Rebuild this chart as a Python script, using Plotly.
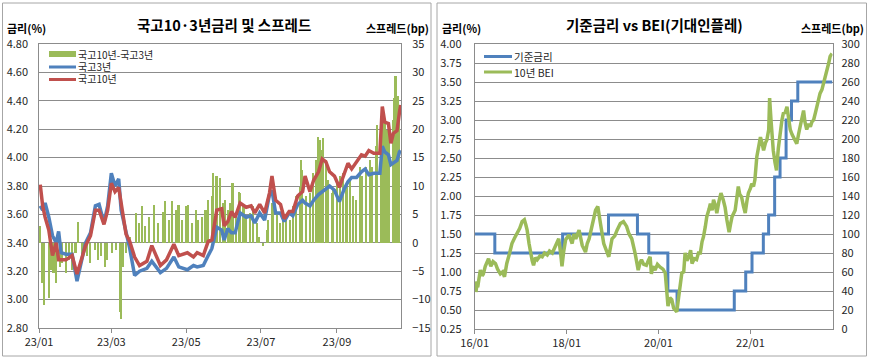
import plotly.graph_objects as go
import pandas as pd

W, H = 869, 358

# ---------------- Left panel data (2023) ----------------
base_2023 = pd.Timestamp("2023-01-01")
rate_day = [1, 3, 5, 8, 11, 14, 16, 18, 22, 27,
            31, 38, 42, 46, 49, 53, 56, 59, 62, 65,
            67, 71, 74, 78, 82, 88, 92, 99, 104, 110,
            114, 121, 126, 129, 134, 138, 141, 145, 149, 151,
            154, 157, 160, 164, 169, 173, 176, 180, 184, 188,
            190, 193, 197, 200, 204, 207, 211, 215, 217, 221,
            224, 228, 231, 234, 237, 241, 245, 249, 252, 255,
            259, 263, 266, 269, 273, 278, 280, 282, 285, 287,
            289, 292, 294, 295]
ktb10 = [3.81, 3.66, 3.58, 3.49, 3.31, 3.40, 3.28, 3.28, 3.28, 3.31,
         3.18, 3.38, 3.45, 3.63, 3.63, 3.53, 3.63, 3.82, 3.76, 3.79,
         3.68, 3.46, 3.41, 3.30, 3.24, 3.27, 3.38, 3.24, 3.28, 3.39,
         3.31, 3.33, 3.30, 3.33, 3.31, 3.41, 3.42, 3.63, 3.64, 3.52,
         3.55, 3.62, 3.58, 3.68, 3.65, 3.66, 3.61, 3.67, 3.61, 3.75,
         3.87, 3.70, 3.67, 3.57, 3.62, 3.62, 3.73, 3.76, 3.87, 3.76,
         3.84, 3.90, 3.99, 3.97, 3.90, 3.87, 3.79, 3.88, 3.96, 3.92,
         3.97, 4.02, 4.01, 4.05, 4.03, 4.03, 4.36, 4.25, 4.24, 4.10,
         4.17, 4.19, 4.32, 4.37]
ktb3 = [3.66, 3.63, 3.68, 3.58, 3.45, 3.40, 3.48, 3.33, 3.32, 3.32,
        3.13, 3.40, 3.47, 3.66, 3.67, 3.54, 3.66, 3.89, 3.80, 3.85,
        3.63, 3.47, 3.36, 3.17, 3.20, 3.22, 3.27, 3.19, 3.22, 3.30,
        3.23, 3.21, 3.24, 3.23, 3.24, 3.31, 3.36, 3.51, 3.49, 3.42,
        3.50, 3.47, 3.47, 3.61, 3.58, 3.59, 3.54, 3.61, 3.56, 3.74,
        3.77, 3.61, 3.61, 3.55, 3.61, 3.59, 3.67, 3.70, 3.68, 3.66,
        3.70, 3.74, 3.76, 3.78, 3.80, 3.77, 3.69, 3.78, 3.83, 3.86,
        3.86, 3.90, 3.92, 3.88, 3.89, 3.89, 4.08, 4.04, 4.02, 3.95,
        3.96, 3.98, 4.04, 4.05]

spread_day = [1, 3, 4, 8, 10, 12, 14, 17, 19, 22,
              25, 27, 30, 32, 35, 36, 39, 42, 46, 48,
              51, 54, 56, 60, 63, 66, 67, 69, 71, 74,
              79, 82, 84, 87, 90, 94, 97, 101, 103, 106,
              109, 112, 114, 117, 120, 122, 125, 128, 130, 133,
              136, 138, 141, 142, 145, 148, 150, 152, 154, 156,
              158, 161, 163, 164, 167, 169, 172, 175, 178, 180,
              183, 186, 187, 190, 191, 194, 197, 199, 202, 205,
              207, 210, 213, 214, 215, 218, 221, 224, 226, 228,
              229, 230, 232, 234, 236, 239, 240, 243, 246, 248,
              251, 254, 256, 259, 262, 264, 267, 270, 272, 275,
              276, 279, 280, 282, 284, 286, 289, 290, 291, 293,
              294]
spread_bp = [2.9, -7.1, -10.9, -9.7, -4.8, -5.3, -7.1, -4.2, -3.6, -5.3,
             -3.0, -4.8, -1.8, 3.7, -3.0, -1.8, -2.4, -3.6, -1.2, -3.0,
             -2.4, -4.2, -3.0, -1.8, -1.2, -12.1, -13.5, -4.2, -1.8, 1.0,
             5.2, 3.5, 6.5, 2.9, 4.6, 6.7, 3.5, 5.5, 7.3, 4.0,
             7.3, 5.8, 6.7, 4.0, 6.5, 6.7, 3.5, 5.8, 4.0, 4.6,
             5.8, 7.6, 8.2, 12.3, 11.7, 11.4, 7.0, 7.6, 5.8, 7.0,
             10.5, 5.2, 9.0, 8.7, 6.4, 4.6, 5.2, 6.4, 3.5, 1.1,
             -0.6, 2.3, 4.0, 7.0, 6.4, 5.2, 3.5, 5.8, 4.6, 4.0,
             6.4, 8.2, 9.9, 14.6, 12.9, 8.2, 8.7, 12.3, 14.6, 18.7,
             18.1, 16.4, 18.4, 14.6, 11.1, 8.7, 9.3, 10.5, 11.7, 12.3,
             9.9, 11.1, 8.2, 7.6, 13.4, 11.7, 13.4, 14.6, 13.4, 17.0,
             20.8, 19.9, 22.2, 21.7, 19.9, 21.1, 21.7, 25.5, 29.3, 25.8,
             22.2]

# ---------------- Right panel data (2016-2023) ----------------
bei_date = (
    ["2016-" + s for s in ["01-04", "01-11", "01-18", "01-25", "02-03", "02-15", "03-01", "03-10", "03-25", "04-20",
                           "05-08", "05-26", "06-14", "07-01", "07-23", "08-10", "08-25", "09-12", "10-05", "10-23",
                           "11-14", "12-02", "12-24"]]
    + ["2017-" + s for s in ["01-12", "01-30", "02-10", "02-21", "03-08", "03-18", "04-02", "04-13", "04-28", "05-12",
                             "06-03", "06-21", "07-09", "07-31", "08-18", "09-09", "10-05", "10-30", "11-14", "11-25",
                             "12-09", "12-24"]]
    + ["2018-" + s for s in ["01-19", "02-14", "02-28", "03-15", "04-10", "05-05", "05-31", "06-14", "06-29", "07-24",
                             "08-19", "09-06", "09-16", "09-27", "10-23", "11-14", "12-02", "12-28"]]
    + ["2019-" + s for s in ["01-19", "02-06", "03-04", "03-29", "04-23", "05-12", "06-03", "06-29", "07-24", "08-08",
                             "08-19", "09-06", "09-27", "10-12", "10-27", "11-06", "11-17", "12-05", "12-24"]]
    + ["2020-" + s for s in ["01-15", "02-06", "02-24", "03-06", "03-17", "04-01", "04-16", "05-01", "05-12", "05-26",
                             "06-10", "06-24", "07-05", "07-20", "07-31", "08-14", "08-29", "09-13", "09-24", "10-12",
                             "10-30", "11-14", "11-29", "12-13", "12-24"]]
    + ["2021-" + s for s in ["01-08", "01-19", "02-06", "02-17", "03-03", "03-14", "03-29", "04-09", "04-27", "05-12",
                             "05-30", "06-14", "06-28", "07-16", "07-27", "08-08", "09-02", "09-13", "09-27", "10-08",
                             "10-23", "11-06", "11-21", "12-05", "12-16"]]
    + ["2022-" + s for s in ["01-01", "01-12", "01-26", "02-06", "02-21", "03-07", "03-22", "04-05", "04-16", "05-01",
                             "05-12", "05-27", "06-03", "06-14", "06-25", "07-02", "07-16", "07-28", "08-11", "08-25",
                             "09-09", "09-20", "10-05", "10-19", "11-03", "11-14", "11-28", "12-09", "12-24"]]
    + ["2023-" + s for s in ["01-05", "01-19", "02-03", "02-14", "02-28", "03-11", "03-25", "04-09", "04-23", "05-05",
                             "05-19", "06-03", "06-14", "06-28", "07-09", "07-24", "08-08", "08-19", "09-02", "09-16",
                             "09-27", "10-12"]]
)
bei_bp = ([50, 39, 46, 44, 52, 62, 56, 58, 66, 74, 66, 71, 69, 63, 58, 60, 55, 69, 80, 90, 96, 100, 106]
          + [113, 115, 110, 104, 90, 80, 72, 67, 75, 73, 77, 76, 80, 78, 82, 80, 87, 95, 80, 66, 82, 94]
          + [99, 90, 100, 95, 104, 88, 81, 90, 95, 108, 125, 129, 118, 111, 90, 82, 76, 95]
          + [98, 104, 111, 113, 108, 100, 95, 80, 62, 70, 73, 68, 67, 72, 76, 58, 66, 62, 68]
          + [65, 63, 59, 38, 24, 33, 31, 22, 20, 18, 34, 45, 59, 60, 80, 72, 76, 83, 69, 74, 73, 80, 80, 92, 97]
          + [108, 118, 126, 132, 125, 136, 130, 122, 135, 143, 136, 128, 115, 102, 110, 118, 125, 135, 150, 142,
             139, 130, 122, 135, 143]
          + [148, 153, 150, 157, 181, 192, 202, 195, 188, 196, 199, 210, 243, 220, 200, 188, 175, 167, 190, 206,
             220, 227, 228, 234, 220, 210, 205, 202, 200]
          + [195, 205, 213, 222, 230, 218, 210, 216, 213, 218, 220, 228, 234, 240, 248, 252, 259, 265, 273, 280,
             287, 290])

base_rate_date = ["2016-01-01", "2016-06-09", "2017-11-30", "2018-11-30", "2019-07-18", "2019-10-16",
                  "2020-03-16", "2020-05-28", "2021-08-26", "2021-11-25", "2022-01-14", "2022-04-14",
                  "2022-05-26", "2022-07-13", "2022-08-25", "2022-10-12", "2022-11-24", "2023-01-13",
                  "2023-10-15"]
base_rate = [1.50, 1.25, 1.50, 1.75, 1.50, 1.25, 0.75, 0.50, 0.75, 1.00, 1.25, 1.50,
             1.75, 2.25, 2.50, 3.00, 3.25, 3.50, 3.50]

assert len(rate_day) == len(ktb10) == len(ktb3)
assert len(spread_day) == len(spread_bp)
assert len(bei_date) == len(bei_bp)

rate_dates = [base_2023 + pd.Timedelta(days=d) for d in rate_day]
spread_dates = [base_2023 + pd.Timedelta(days=d) for d in spread_day]

# ---------------- Styling ----------------
GREEN = "#9bbb59"
BLUE = "#4f81bd"
RED = "#c0504d"
GRID = "#8c8c8c"
FONT = "Noto Sans CJK KR"
TXT = "#262626"

fig = go.Figure()

fig.add_trace(go.Bar(x=spread_dates, y=spread_bp, marker=dict(color=GREEN, line=dict(width=0)),
                     width=1.3 * 86400000, xaxis="x", yaxis="y", name="국고10년-국고3년", showlegend=False))
fig.add_trace(go.Scatter(x=rate_dates, y=ktb3, mode="lines", line=dict(color=BLUE, width=3.5),
                         xaxis="x", yaxis="y2", name="국고3년", showlegend=False))
fig.add_trace(go.Scatter(x=rate_dates, y=ktb10, mode="lines", line=dict(color=RED, width=3.5),
                         xaxis="x", yaxis="y2", name="국고10년", showlegend=False))

fig.add_trace(go.Scatter(x=base_rate_date, y=base_rate, mode="lines", line=dict(color=BLUE, width=3, shape="hv"),
                         xaxis="x2", yaxis="y3", name="기준금리", showlegend=False))
fig.add_trace(go.Scatter(x=bei_date, y=bei_bp, mode="lines", line=dict(color=GREEN, width=3.5),
                         xaxis="x2", yaxis="y4", name="10년 BEI", showlegend=False))

def fx(px):
    return px / W

def fy(py):
    return 1 - py / H

tickfont = dict(family=FONT, size=11, color=TXT)

L_dom = [fx(39), fx(401)]
R_dom = [fx(474.7), fx(832.5)]
L_y = [fy(328), fy(44)]
R_y = [fy(329), fy(44)]

xcommon = dict(type="date", showgrid=False, ticks="outside", ticklen=4, tickcolor=GRID, showline=True,
               linecolor=GRID, mirror=True, tickfont=tickfont, tickformat="%y/%m", zeroline=False,
               automargin=False)

fig.update_layout(
    template="none",
    width=W, height=H, margin=dict(l=0, r=0, t=0, b=0, pad=0, autoexpand=False),
    paper_bgcolor="white", plot_bgcolor="white",
    font=dict(family=FONT, size=11, color=TXT),
    bargap=0,
    xaxis=dict(domain=L_dom, anchor="y", range=["2023-01-01", "2023-10-23 06:00"],
               dtick="M2", tick0="2023-01-01", **xcommon),
    yaxis=dict(domain=L_y, anchor="x", side="right", range=[-15, 35], dtick=5, tick0=0,
               showgrid=True, gridcolor=GRID, gridwidth=1, zeroline=False, showline=True,
               linecolor=GRID, mirror=True, tickfont=tickfont, ticks="", ticklabelstandoff=8,
               automargin=False),
    yaxis2=dict(overlaying="y", anchor="x", side="left", range=[2.8, 4.8], dtick=0.2, tick0=2.8,
                tickformat=".2f", showgrid=False, zeroline=False, tickfont=tickfont, ticks="",
                ticklabelstandoff=10, automargin=False),
    xaxis2=dict(domain=R_dom, anchor="y3", range=["2016-01-01", "2023-10-16"],
                dtick="M24", tick0="2016-01-01", **xcommon),
    yaxis3=dict(domain=R_y, anchor="x2", side="left", range=[0.25, 4.0], dtick=0.25, tick0=0,
                tickformat=".2f", showgrid=True, gridcolor=GRID, gridwidth=1, zeroline=False,
                showline=True, linecolor=GRID, mirror=True, tickfont=tickfont, ticks="",
                ticklabelstandoff=10, automargin=False),
    yaxis4=dict(overlaying="y3", anchor="x2", side="right", range=[0, 300], dtick=20, tick0=0,
                showgrid=False, zeroline=False, tickfont=tickfont, ticks="", ticklabelstandoff=8,
                automargin=False),
)

shapes = []
# panel borders
shapes.append(dict(type="rect", xref="paper", yref="paper", x0=fx(2.5), x1=fx(431), y0=fy(356), y1=fy(3),
                   line=dict(color="#a6a6a6", width=1), fillcolor="rgba(0,0,0,0)", layer="below"))
shapes.append(dict(type="rect", xref="paper", yref="paper", x0=fx(437), x1=fx(866.5), y0=fy(356), y1=fy(3),
                   line=dict(color="#a6a6a6", width=1), fillcolor="rgba(0,0,0,0)", layer="below"))

annotations = []

def txt(x, y, s, size=11, bold=False, anchor="left"):
    annotations.append(dict(xref="paper", yref="paper", x=fx(x), y=fy(y), text=("<b>%s</b>" % s) if bold else s,
                            showarrow=False, xanchor=anchor, yanchor="middle", borderpad=0,
                            font=dict(family=FONT, size=size, color="#000000" if bold else TXT)))

# titles
txt(224, 24, "국고10·3년금리 및 스프레드", size=14.5, bold=True, anchor="center")
txt(654, 24, "기준금리 vs BEI(기대인플레)", size=14.5, bold=True, anchor="center")
# axis titles
txt(6, 28, "금리(%)", size=11, bold=True)
txt(430, 28, "스프레드(bp)", size=11, bold=True, anchor="right")
txt(441, 28, "금리(%)", size=11, bold=True)
txt(865, 28, "스프레드(bp)", size=11, bold=True, anchor="right")

# legend (left)
shapes.append(dict(type="rect", xref="paper", yref="paper", x0=fx(49), x1=fx(76), y0=fy(57), y1=fy(51),
                   fillcolor=GREEN, line=dict(width=0)))
shapes.append(dict(type="line", xref="paper", yref="paper", x0=fx(49), x1=fx(76), y0=fy(67), y1=fy(67),
                   line=dict(color=BLUE, width=3)))
shapes.append(dict(type="line", xref="paper", yref="paper", x0=fx(49), x1=fx(76), y0=fy(79.5), y1=fy(79.5),
                   line=dict(color=RED, width=3)))
txt(77, 54, "국고10년-국고3년", size=10)
txt(77, 66.5, "국고3년", size=10)
txt(77, 79, "국고10년", size=10)
# legend (right)
shapes.append(dict(type="line", xref="paper", yref="paper", x0=fx(484), x1=fx(512), y0=fy(56.5), y1=fy(56.5),
                   line=dict(color=BLUE, width=3)))
shapes.append(dict(type="line", xref="paper", yref="paper", x0=fx(484), x1=fx(512), y0=fy(72), y1=fy(72),
                   line=dict(color=GREEN, width=3)))
txt(513, 56.5, "기준금리", size=10.5)
txt(513, 72, "10년 BEI", size=10.5)

fig.update_layout(shapes=shapes, annotations=annotations)

fig.write_html("out.html",
               config={"displayModeBar": False},
               post_script="document.body.style.margin='0';document.body.style.padding='0';"
                           "document.body.style.overflow='hidden';")
